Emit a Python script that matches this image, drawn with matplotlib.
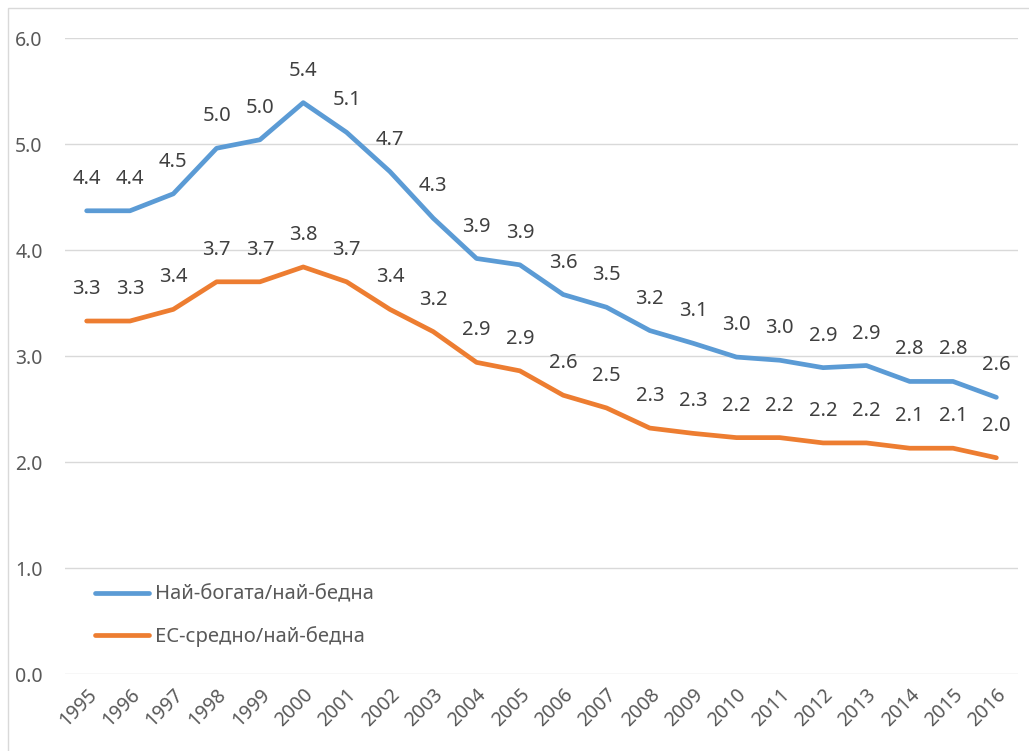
import matplotlib
matplotlib.use("Agg")
import matplotlib.pyplot as plt
from matplotlib.patches import Rectangle

years = ["1995", "1996", "1997", "1998", "1999", "2000", "2001", "2002", "2003", "2004", "2005",
         "2006", "2007", "2008", "2009", "2010", "2011", "2012", "2013", "2014", "2015", "2016"]
richest_poorest = [4.37, 4.37, 4.53, 4.96, 5.04, 5.39, 5.11, 4.74, 4.30, 3.92, 3.86,
                   3.58, 3.46, 3.24, 3.12, 2.99, 2.96, 2.89, 2.91, 2.76, 2.76, 2.61]
eu_poorest = [3.33, 3.33, 3.44, 3.70, 3.70, 3.84, 3.70, 3.44, 3.23, 2.94, 2.86,
              2.63, 2.51, 2.32, 2.27, 2.23, 2.23, 2.18, 2.18, 2.13, 2.13, 2.04]
series_names = ["Най-богата/най-бедна", "ЕС-средно/най-бедна"]
yticks = [0.0, 1.0, 2.0, 3.0, 4.0, 5.0, 6.0]

plt.rcParams['font.family'] = ['Noto Sans', 'DejaVu Sans']

W, H = 1029, 751
fig = plt.figure(figsize=(W / 100, H / 100), dpi=100)
fig.patches.append(Rectangle((8 / W, -0.01), 1.02, (H - 8) / H + 0.01, transform=fig.transFigure,
                             fill=False, edgecolor='#D9D9D9', linewidth=1.0))
ax = fig.add_axes([65 / W, (H - 674) / H, 953 / W, 636 / H])

x = list(range(len(years)))
colors = ['#5B9BD5', '#ED7D31']
for vals, name, c in zip([richest_poorest, eu_poorest], series_names, colors):
    ax.plot(x, vals, color=c, linewidth=3.4, solid_capstyle='round', solid_joinstyle='round', label=name)
    for xi, v in zip(x, vals):
        ax.annotate(f"{v:.1f}", (xi, v), xytext=(0, 23), textcoords='offset points',
                    ha='center', va='center', fontsize=14.5, color='#404040')

ax.set_xlim(-0.5, len(years) - 0.5)
ax.set_ylim(0, 6)
ax.set_yticks(yticks)
ax.set_yticklabels([f"{t:.1f}" for t in yticks])
ax.set_xticks(x)
ax.set_xticklabels(years, rotation=45, ha='right', va='top', rotation_mode='anchor')
ax.tick_params(axis='both', length=0, labelsize=14, labelcolor='#595959')
ax.tick_params(axis='y', pad=16)
ax.tick_params(axis='x', pad=8)
ax.grid(axis='y', color='#D9D9D9', linewidth=1.0)
ax.set_axisbelow(True)
for s in ax.spines.values():
    s.set_visible(False)

leg = ax.legend(loc='lower left', bbox_to_anchor=(0.012, 0.014), frameon=False, fontsize=14.5,
                handlelength=2.7, handletextpad=0.3, labelspacing=1.05)
for t in leg.get_texts():
    t.set_color('#595959')

fig.savefig("out.png", dpi=100)
